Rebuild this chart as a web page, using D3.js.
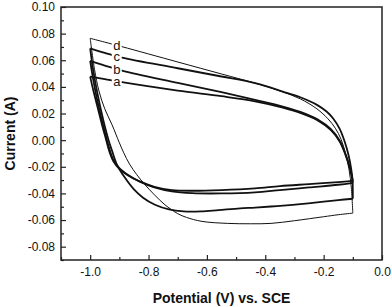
<!DOCTYPE html>
<html>
<head>
<meta charset="utf-8">
<script src="https://cdn.jsdelivr.net/npm/d3@7"></script>
<style>
  body { margin: 0; background: #fff; }
  svg { display: block; font-family: Arial, "Liberation Sans", sans-serif; }
</style>
</head>
<body>
<svg id="chart" width="392" height="307"></svg>
<script>
// CV loops: [potential (V), current (A)]
// upper branch: -1.0 V -> -0.1 V, lower branch: -0.1 V -> -1.0 V
const upperA = [
  [-1.00, 0.0477], [-0.95, 0.0458], [-0.891, 0.0435], [-0.70, 0.0372], [-0.55, 0.0330],
  [-0.435, 0.0292], [-0.34, 0.0245], [-0.28, 0.0205], [-0.22, 0.0148], [-0.175, 0.0075],
  [-0.145, -0.001], [-0.125, -0.011], [-0.11, -0.021], [-0.10, -0.0305]
];
const lowerA = [
  [-0.10, -0.0305], [-0.15, -0.0315], [-0.25, -0.0330], [-0.35, -0.0345], [-0.435, -0.0362],
  [-0.55, -0.0375], [-0.65, -0.0380], [-0.72, -0.0375], [-0.78, -0.0350], [-0.83, -0.0310],
  [-0.87, -0.0265], [-0.90, -0.0215], [-0.92, -0.0160], [-0.935, -0.008], [-0.945, 0.000],
  [-0.96, 0.012], [-0.975, 0.025], [-0.99, 0.038], [-1.00, 0.0477]
];
const upperB = [
  [-1.00, 0.0595], [-0.95, 0.0560], [-0.891, 0.0522], [-0.70, 0.0430], [-0.55, 0.0360],
  [-0.435, 0.0302], [-0.34, 0.0252], [-0.28, 0.0212], [-0.22, 0.0155], [-0.175, 0.0082],
  [-0.145, -0.0005], [-0.125, -0.0105], [-0.11, -0.021], [-0.10, -0.032]
];
const lowerB = [
  [-0.10, -0.032], [-0.15, -0.0335], [-0.25, -0.0355], [-0.35, -0.0375], [-0.435, -0.0392],
  [-0.55, -0.0400], [-0.65, -0.0398], [-0.72, -0.0385], [-0.78, -0.0355], [-0.83, -0.0312],
  [-0.87, -0.0262], [-0.90, -0.0210], [-0.92, -0.0150], [-0.935, -0.006], [-0.945, 0.002],
  [-0.96, 0.015], [-0.975, 0.029], [-0.99, 0.046], [-1.00, 0.0595]
];
const upperC = [
  [-1.00, 0.0690], [-0.95, 0.0656], [-0.891, 0.0620], [-0.70, 0.0540], [-0.55, 0.0478],
  [-0.435, 0.0428], [-0.34, 0.0365], [-0.28, 0.0322], [-0.223, 0.0265], [-0.19, 0.0215],
  [-0.168, 0.0165], [-0.145, 0.0085], [-0.128, -0.001], [-0.115, -0.011], [-0.106, -0.021],
  [-0.101, -0.030], [-0.10, -0.044]
];
const lowerC = [
  [-0.10, -0.044], [-0.15, -0.0450], [-0.20, -0.0462], [-0.28, -0.0480], [-0.36, -0.0495],
  [-0.435, -0.0506], [-0.486, -0.0512], [-0.56, -0.0525], [-0.62, -0.0535], [-0.68, -0.0535],
  [-0.73, -0.0520], [-0.778, -0.0485], [-0.82, -0.0430], [-0.85, -0.0370], [-0.88, -0.0285],
  [-0.908, -0.0185], [-0.925, -0.008], [-0.937, 0.000], [-0.955, 0.015], [-0.975, 0.035],
  [-0.99, 0.053], [-1.00, 0.0690]
];
const upperD = [
  [-1.00, 0.0765], [-0.95, 0.0736], [-0.891, 0.0702], [-0.70, 0.0587], [-0.55, 0.0497],
  [-0.435, 0.0428], [-0.35, 0.0370], [-0.28, 0.0310], [-0.223, 0.0235], [-0.185, 0.0160],
  [-0.16, 0.0090], [-0.14, 0.0005], [-0.125, -0.010], [-0.113, -0.022], [-0.105, -0.036],
  [-0.10, -0.0548]
];
const lowerD = [
  [-0.10, -0.0548], [-0.15, -0.0560], [-0.20, -0.0575], [-0.30, -0.0605], [-0.38, -0.0625],
  [-0.45, -0.0628], [-0.53, -0.0625], [-0.617, -0.0610], [-0.67, -0.0580], [-0.70, -0.0552],
  [-0.744, -0.0485], [-0.78, -0.0410], [-0.812, -0.0335], [-0.84, -0.0260], [-0.865, -0.0180],
  [-0.885, -0.0095], [-0.90, -0.002], [-0.925, 0.0115], [-0.95, 0.0235], [-0.97, 0.037],
  [-0.985, 0.053], [-1.00, 0.0765]
];

const curveNames = ["a", "b", "c", "d"];
const branches = [
  {name: "a", pts: upperA}, {name: "a", pts: lowerA},
  {name: "b", pts: upperB}, {name: "b", pts: lowerB},
  {name: "c", pts: upperC}, {name: "c", pts: lowerC},
  {name: "d", pts: upperD}, {name: "d", pts: lowerD}
];
const curveWidths = {a: 1.8, b: 1.8, c: 1.8, d: 1};
// where the letter sits on each upper branch
const labelPotential = -0.909;
const labelCurrent = [0.0442, 0.0534, 0.0632, 0.0712];

const xMajor = [-1.0, -0.8, -0.6, -0.4, -0.2, 0.0];
const xMinor = [-1.1, -0.9, -0.7, -0.5, -0.3, -0.1];
const yMajor = [-0.08, -0.06, -0.04, -0.02, 0.00, 0.02, 0.04, 0.06, 0.08, 0.10];
const yMinor = [-0.09, -0.07, -0.05, -0.03, -0.01, 0.01, 0.03, 0.05, 0.07, 0.09];

const margin = {top: 7, right: 10, bottom: 47, left: 61};
const width = 392 - margin.left - margin.right,
  height = 307 - margin.top - margin.bottom;

const svg = d3.select("#chart");
const g = svg.append("g").attr("transform", "translate(" + margin.left + "," + margin.top + ")");

const x = d3.scaleLinear().domain([-1.1, 0.0]).range([0, width]);
const y = d3.scaleLinear().domain([-0.09, 0.10]).range([height, 0]);

// curves, each branch drawn on its own so the turning points stay sharp
const line = d3.line()
  .x(d => x(d[0]))
  .y(d => y(d[1]))
  .curve(d3.curveCatmullRom.alpha(0.5));

g.selectAll("path.cv")
  .data(branches)
  .enter().append("path")
    .attr("class", "cv")
    .attr("d", d => line(d.pts))
    .attr("fill", "none")
    .attr("stroke", "#111")
    .attr("stroke-width", d => curveWidths[d.name])
    .attr("stroke-linejoin", "round");

// letters with a white box that hides the line underneath
const lab = g.selectAll("g.lab")
  .data(curveNames)
  .enter().append("g")
    .attr("class", "lab")
    .attr("transform", (d, i) => "translate(" + x(labelPotential) + "," + y(labelCurrent[i]) + ")");
lab.append("rect")
  .attr("x", -5).attr("y", -5).attr("width", 10).attr("height", 10)
  .attr("fill", "#fff");
lab.append("text")
  .attr("text-anchor", "middle")
  .attr("dy", "0.36em")
  .style("font-size", "13px")
  .attr("fill", "#111")
  .text(d => d);

// axes, ticks pointing inward
g.append("g").attr("transform", "translate(0," + height + ")")
  .call(d3.axisBottom(x).tickValues(xMajor).tickSize(-5).tickPadding(7)
    .tickFormat(d => d.toFixed(1)));
g.append("g").attr("transform", "translate(0," + height + ")")
  .call(d3.axisBottom(x).tickValues(xMinor).tickSize(-3).tickFormat(""));
g.append("g")
  .call(d3.axisLeft(y).tickValues(yMajor).tickSize(-5).tickPadding(6)
    .tickFormat(d => d.toFixed(2)));
g.append("g")
  .call(d3.axisLeft(y).tickValues(yMinor).tickSize(-3).tickFormat(""));

g.selectAll(".domain").remove();
g.selectAll(".tick line").attr("stroke", "#222").attr("stroke-width", 1.2);
g.selectAll(".tick text").style("font-size", "12px").attr("fill", "#111");

g.append("rect")
  .attr("width", width).attr("height", height)
  .attr("fill", "none")
  .attr("stroke", "#222")
  .attr("stroke-width", 1.5);

// titles
svg.append("text")
  .attr("x", margin.left + width / 2)
  .attr("y", 303)
  .attr("text-anchor", "middle")
  .style("font-size", "14px")
  .style("font-weight", "bold")
  .attr("fill", "#111")
  .text("Potential (V) vs. SCE");

svg.append("text")
  .attr("transform", "translate(15," + (margin.top + height / 2) + ") rotate(-90)")
  .attr("text-anchor", "middle")
  .style("font-size", "14px")
  .style("font-weight", "bold")
  .attr("fill", "#111")
  .text("Current (A)");
</script>
</body>
</html>
